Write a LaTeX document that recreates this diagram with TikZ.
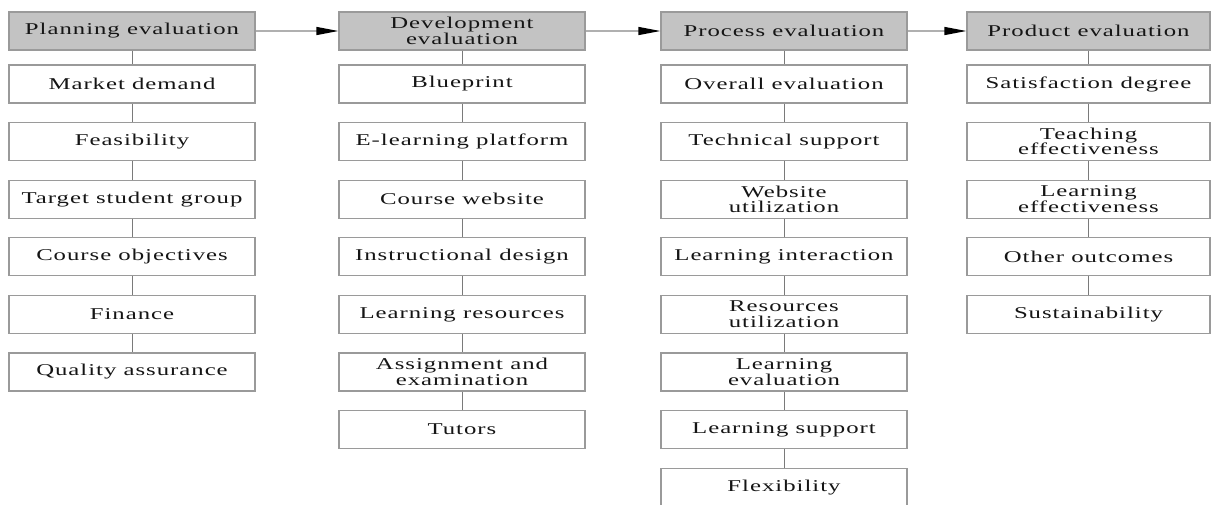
\documentclass[tikz,border=0pt]{standalone}
\usepackage{fontspec}
\setmainfont{Liberation Serif}[FakeStretch=1.5,LetterSpace=6]
\usetikzlibrary{arrows.meta}
\definecolor{headfill}{HTML}{C3C3C3}
\definecolor{boxline}{HTML}{9A9A9A}
\definecolor{linkline}{HTML}{7A7A7A}
\definecolor{flowline}{HTML}{B0B0B0}
\definecolor{txt}{HTML}{151515}
\tikzset{
  item/.style={draw=boxline, line width=1.2pt, fill=white, minimum width=246pt,
    minimum height=38pt, inner sep=0pt, align=center, text=txt,
    font=\fontsize{16.5}{15.5}\selectfont},
  head/.style={item, fill=headfill},
  link/.style={draw=linkline, line width=0.8pt},
  flow/.style={draw=flowline, line width=1.3pt,
    -{Stealth[length=22pt,width=8pt,inset=0pt,color=black]}},
}
\begin{document}
\begin{tikzpicture}[x=1pt,y=1pt]
\useasboundingbox (0,0) rectangle (1213,-504);

% Column 1: planning
\node[head] (p0) at (132,-31) {Planning evaluation};
\node[item] (p1) at (132,-84)    {Market demand};
\node[item] (p2) at (132,-141.6) {Feasibility};
\node[item] (p3) at (132,-199.2) {Target student group};
\node[item] (p4) at (132,-256.8) {Course objectives};
\node[item] (p5) at (132,-314.4) {Finance};
\node[item] (p6) at (132,-372)   {Quality assurance};

% Column 2: development
\node[head] (d0) at (462,-31) {Development\\evaluation};
\node[item] (d1) at (462,-84)    {Blueprint};
\node[item] (d2) at (462,-141.6) {E-learning platform};
\node[item] (d3) at (462,-199.2) {Course website};
\node[item] (d4) at (462,-256.8) {Instructional design};
\node[item] (d5) at (462,-314.4) {Learning resources};
\node[item] (d6) at (462,-372)   {Assignment and\\examination};
\node[item] (d7) at (462,-429.6) {Tutors};

% Column 3: process
\node[head] (r0) at (784,-31) {Process evaluation};
\node[item] (r1) at (784,-84)    {Overall evaluation};
\node[item] (r2) at (784,-141.6) {Technical support};
\node[item] (r3) at (784,-199.2) {Website\\utilization};
\node[item] (r4) at (784,-256.8) {Learning interaction};
\node[item] (r5) at (784,-314.4) {Resources\\utilization};
\node[item] (r6) at (784,-372)   {Learning\\evaluation};
\node[item] (r7) at (784,-429.6) {Learning support};
\node[item] (r8) at (784,-487.2) {Flexibility};

% Column 4: product
\node[head, minimum width=243pt] (u0) at (1088.5,-31) {Product evaluation};
\node[item, minimum width=243pt] (u1) at (1088.5,-84)    {Satisfaction degree};
\node[item, minimum width=243pt] (u2) at (1088.5,-141.6) {Teaching\\effectiveness};
\node[item, minimum width=243pt] (u3) at (1088.5,-199.2) {Learning\\effectiveness};
\node[item, minimum width=243pt] (u4) at (1088.5,-256.8) {Other outcomes};
\node[item, minimum width=243pt] (u5) at (1088.5,-314.4) {Sustainability};

% vertical links inside each column
\foreach \a/\b in {p0/p1,p1/p2,p2/p3,p3/p4,p4/p5,p5/p6,
                   d0/d1,d1/d2,d2/d3,d3/d4,d4/d5,d5/d6,d6/d7,
                   r0/r1,r1/r2,r2/r3,r3/r4,r4/r5,r5/r6,r6/r7,r7/r8,
                   u0/u1,u1/u2,u2/u3,u3/u4,u4/u5}
  \draw[link] (\a.south) -- (\b.north);

% stage flow between headers
\draw[flow] (p0.east) -- (d0.west);
\draw[flow] (d0.east) -- (r0.west);
\draw[flow] (r0.east) -- (u0.west);
\end{tikzpicture}
\end{document}
